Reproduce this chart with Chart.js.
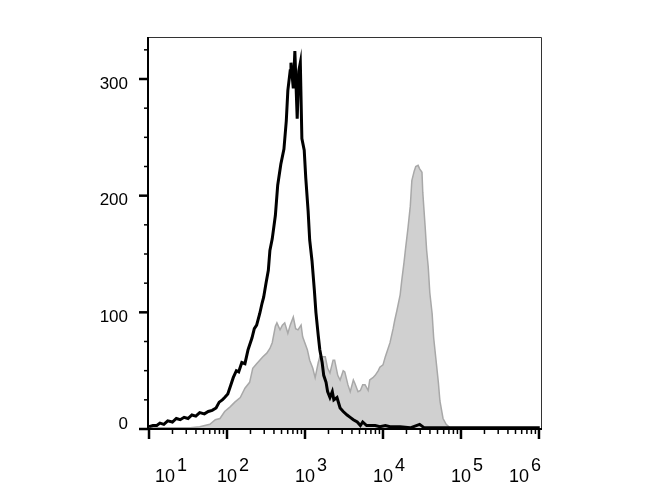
<!DOCTYPE html>
<html>
<head>
<meta charset="utf-8">
<script src="https://cdn.jsdelivr.net/npm/chart.js@4"></script>
<style>
  body { margin: 0; background: #fff; }
</style>
</head>
<body>
<canvas id="myChart" width="670" height="500"></canvas>
<script>
//data - x values are log10 of fluorescence (decades), y values are counts
const blackX = [1.00, 1.05, 1.10, 1.14, 1.19, 1.24, 1.30, 1.35, 1.40, 1.45, 1.50, 1.55, 1.60, 1.65, 1.71, 1.76, 1.81, 1.86, 1.90, 1.94,
  1.97, 2.01, 2.05, 2.08, 2.12, 2.15, 2.19, 2.23, 2.27, 2.29, 2.32, 2.35, 2.38, 2.42, 2.45, 2.47, 2.50, 2.53, 2.55, 2.58,
  2.62, 2.65, 2.69, 2.73, 2.76, 2.78, 2.81, 2.82, 2.85, 2.87, 2.90, 2.92, 2.94, 2.96, 2.99, 3.01, 3.04, 3.06, 3.09, 3.12,
  3.14, 3.17, 3.19, 3.22, 3.24, 3.27, 3.29, 3.32, 3.35, 3.37, 3.41, 3.45, 3.49, 3.54, 3.58, 3.62, 3.67, 3.71, 3.74, 3.79,
  3.83, 3.90, 3.96, 4.03, 4.09, 4.22, 4.35, 4.47, 4.53, 4.73, 5.12, 5.50, 6.01];
const blackY = [2, 3, 3, 5, 4, 7, 6, 9, 8, 10, 9, 12, 11, 14, 13, 15, 16, 18, 23, 25,
  27, 30, 38, 44, 50, 49, 57, 56, 68, 72, 78, 86, 89, 99, 108, 113, 125, 136, 153, 163,
  183, 209, 227, 240, 264, 290, 307, 314, 292, 324, 266, 307, 314, 249, 239, 215, 187, 162, 144, 119,
  100, 80, 68, 57, 46, 40, 32, 27, 32, 25, 27, 18, 15, 12, 10, 8, 6, 3, 6, 3,
  3, 3, 2, 3, 2, 2, 1, 4, 1, 1, 1, 1, 1];

const grayX = [1.00, 1.27, 1.53, 1.65, 1.78, 1.85, 1.91, 1.97, 2.04, 2.10, 2.17, 2.23, 2.29, 2.33, 2.38, 2.42, 2.46, 2.51, 2.55, 2.58,
  2.62, 2.64, 2.68, 2.71, 2.74, 2.78, 2.81, 2.85, 2.88, 2.91, 2.95, 2.97, 3.03, 3.06, 3.10, 3.13, 3.17, 3.19, 3.26, 3.29,
  3.32, 3.36, 3.38, 3.42, 3.45, 3.49, 3.51, 3.55, 3.58, 3.62, 3.64, 3.68, 3.71, 3.74, 3.77, 3.81, 3.83, 3.87, 3.90, 3.94,
  3.96, 4.00, 4.03, 4.06, 4.09, 4.13, 4.15, 4.18, 4.22, 4.24, 4.27, 4.29, 4.32, 4.35, 4.37, 4.40, 4.42, 4.45, 4.47, 4.50,
  4.51, 4.54, 4.56, 4.58, 4.60, 4.63, 4.65, 4.68, 4.71, 4.73, 4.77, 4.81, 4.86, 4.99];
const grayY = [1, 1, 1, 2, 4, 8, 9, 15, 19, 23, 27, 35, 40, 52, 56, 59, 62, 65, 69, 74,
  88, 91, 85, 89, 91, 82, 89, 96, 86, 85, 89, 79, 68, 59, 52, 44, 57, 62, 62, 52,
  48, 59, 59, 46, 42, 50, 49, 38, 32, 42, 39, 32, 33, 38, 38, 33, 42, 44, 46, 50,
  53, 55, 62, 68, 74, 86, 93, 102, 115, 127, 143, 155, 172, 191, 213, 221, 225, 226, 223, 220,
  203, 174, 153, 139, 117, 99, 78, 59, 40, 24, 9, 4, 1, 0];

const xDecades = [1, 2, 3, 4, 5, 6];
const yTicks = [0, 100, 200, 300];

function points(xs, ys) {
  return xs.map((x, i) => ({ x: x, y: ys[i] }));
}

//axes drawn by hand: flow-cytometry style log ticks and 10^n labels
const axesPlugin = {
  id: "flowAxes",
  afterDraw(chart) {
    const ctx = chart.ctx;
    const a = chart.chartArea;
    const xs = chart.scales.x;
    const ys = chart.scales.y;
    ctx.save();

    // thin frame top and right
    ctx.strokeStyle = "#333";
    ctx.lineWidth = 1;
    ctx.beginPath();
    ctx.moveTo(a.left, a.top + 0.5);
    ctx.lineTo(a.right + 0.5, a.top + 0.5);
    ctx.lineTo(a.right + 0.5, a.bottom);
    ctx.stroke();

    // left and bottom axis
    ctx.strokeStyle = "#000";
    ctx.lineWidth = 2;
    ctx.beginPath();
    ctx.moveTo(a.left, a.top);
    ctx.lineTo(a.left, a.bottom);
    ctx.lineTo(a.right + 1, a.bottom);
    ctx.stroke();

    // y ticks
    for (let v = 0; v <= 325; v += 25) {
      const y = ys.getPixelForValue(v);
      const major = v % 100 === 0;
      ctx.lineWidth = major ? 2.5 : 1.5;
      ctx.beginPath();
      ctx.moveTo(a.left, y);
      ctx.lineTo(a.left - (major ? 9 : 4), y);
      ctx.stroke();
    }
    ctx.fillStyle = "#000";
    ctx.font = "17px 'Liberation Sans', Arial, sans-serif";
    ctx.textAlign = "right";
    ctx.textBaseline = "middle";
    yTicks.forEach((v) => {
      const y = ys.getPixelForValue(v);
      ctx.fillText(String(v), a.left - 20, v === 0 ? y - 5 : y + 5);
    });

    // x ticks
    xDecades.forEach((d) => {
      const x = xs.getPixelForValue(d);
      ctx.lineWidth = 2.5;
      ctx.beginPath();
      ctx.moveTo(x, a.bottom);
      ctx.lineTo(x, a.bottom + 10);
      ctx.stroke();
      if (d < 6) {
        for (let k = 2; k <= 9; k++) {
          const xm = xs.getPixelForValue(d + Math.log10(k));
          ctx.lineWidth = 1.5;
          ctx.beginPath();
          ctx.moveTo(xm, a.bottom);
          ctx.lineTo(xm, a.bottom + 5);
          ctx.stroke();
        }
      }
    });

    // x labels 10^n
    ctx.font = "18px 'Liberation Sans', Arial, sans-serif";
    ctx.textAlign = "left";
    ctx.textBaseline = "alphabetic";
    xDecades.forEach((d) => {
      const x = xs.getPixelForValue(d);
      const w10 = ctx.measureText("10").width;
      const wExp = ctx.measureText(String(d)).width;
      const total = w10 + 2 + wExp;
      let left = x + 6 - total / 2;
      left = Math.max(left, a.left + 7);
      left = Math.min(left, a.right - total);
      ctx.fillText("10", left, 482);
      ctx.fillText(String(d), left + w10 + 2, 471);
    });

    ctx.restore();
  },
};

//config
const config = {
  type: "line",
  data: {
    datasets: [
      {
        label: "unstained",
        data: points(blackX, blackY),
        borderColor: "#000",
        borderWidth: 3,
        pointRadius: 0,
        fill: false,
        tension: 0,
        order: 0,
      },
      {
        label: "stained",
        data: points(grayX, grayY),
        borderColor: "#a8a8a8",
        backgroundColor: "#d0d0d0",
        borderWidth: 1.5,
        pointRadius: 0,
        fill: "origin",
        tension: 0,
        order: 1,
      },
    ],
  },
  options: {
    responsive: false,
    animation: false,
    layout: {
      padding: { left: 148, right: 129, top: 37, bottom: 71 },
    },
    scales: {
      x: { type: "linear", min: 0.987, max: 6.026, display: false },
      y: { min: 0, max: 336, display: false },
    },
    plugins: {
      legend: { display: false },
      tooltip: { enabled: false },
    },
  },
  plugins: [axesPlugin],
};

const myChart = new Chart(document.getElementById("myChart"), config);
</script>
</body>
</html>
